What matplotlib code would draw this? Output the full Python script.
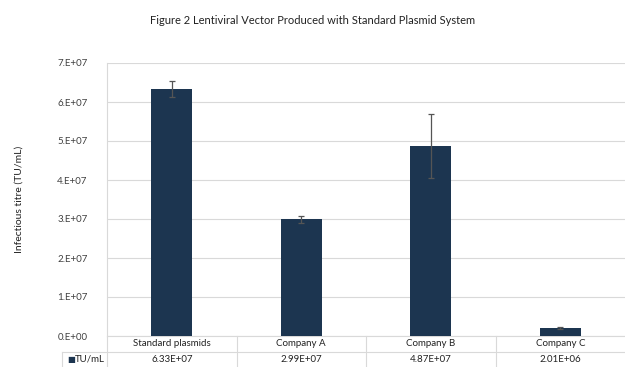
import matplotlib.pyplot as plt
from matplotlib.transforms import blended_transform_factory

categories = ['Standard plasmids', 'Company A', 'Company B', 'Company C']
titres = [6.33e7, 2.99e7, 4.87e7, 2.01e6]
errors = [0.2e7, 0.09e7, 0.83e7, 0.02e7]
value_labels = ['6.33E+07', '2.99E+07', '4.87E+07', '2.01E+06']
yticks = [0, 1e7, 2e7, 3e7, 4e7, 5e7, 6e7, 7e7]
ytick_labels = ['0.E+00', '1.E+07', '2.E+07', '3.E+07', '4.E+07', '5.E+07', '6.E+07', '7.E+07']

bar_color = '#1c3550'
grid_color = '#d9d9d9'
text_color = '#404040'
plt.rcParams['font.family'] = ['Lato', 'DejaVu Sans']

fig = plt.figure(figsize=(6.25, 3.67), dpi=100)
ax = fig.add_axes([107 / 625, 1 - 336 / 367, 518 / 625, 273 / 367])

x = list(range(len(categories)))
ax.bar(x, titres, width=0.315, color=bar_color, zorder=3)
ax.errorbar(x, titres, yerr=errors, fmt='none', ecolor='#555555',
            elinewidth=0.9, capsize=2.5, capthick=0.9, zorder=4)

ax.set_xlim(-0.5, len(categories) - 0.5)
ax.set_ylim(0, 7e7)
ax.set_yticks(yticks)
ax.set_yticklabels(ytick_labels, fontsize=7, color=text_color)
ax.set_xticks([])
ax.tick_params(axis='y', length=0, pad=14)
ax.grid(axis='y', color=grid_color, linewidth=0.8, zorder=0)
for s in ['top', 'right', 'bottom']:
    ax.spines[s].set_visible(False)
ax.spines['left'].set_color(grid_color)
ax.spines['left'].set_linewidth(0.8)

ax.set_ylabel('Infectious titre (TU/mL)', fontsize=7.5, color='#222222', labelpad=24)
fig.text(0.5, 1 - 20 / 367, 'Figure 2 Lentiviral Vector Produced with Standard Plasmid System',
         ha='center', va='center', fontsize=8, color='#222222')

# data table under the axis
tr = blended_transform_factory(ax.transData, ax.transAxes)
row1 = -16 / 273
row2 = -31 / 273
leg_left = (62 - 107) / 518 * len(categories) - 0.5
line_kw = dict(color=grid_color, linewidth=0.8, clip_on=False, transform=tr)
ax.plot([-0.5, len(categories) - 0.5], [0, 0], **line_kw)
ax.plot([leg_left, len(categories) - 0.5], [row1, row1], **line_kw)
ax.plot([leg_left, leg_left], [row1, row2], **line_kw)
for b in range(len(categories)):
    ax.plot([b - 0.5, b - 0.5], [0, row2], **line_kw)
for i, cat in enumerate(categories):
    ax.text(i, row1 / 2, cat, ha='center', va='center', fontsize=7,
            color='#222222', transform=tr)
    ax.text(i, (row1 + row2) / 2, value_labels[i], ha='center', va='center',
            fontsize=7, color='#222222', transform=tr)
ax.text(leg_left + 0.04, (row1 + row2) / 2, '■', ha='left', va='center',
        fontsize=6, color=bar_color, transform=tr, family='DejaVu Sans')
ax.text(leg_left + 0.1, (row1 + row2) / 2, 'TU/mL', ha='left', va='center',
        fontsize=7, color='#222222', transform=tr)

fig.savefig('out.png', dpi=100)
